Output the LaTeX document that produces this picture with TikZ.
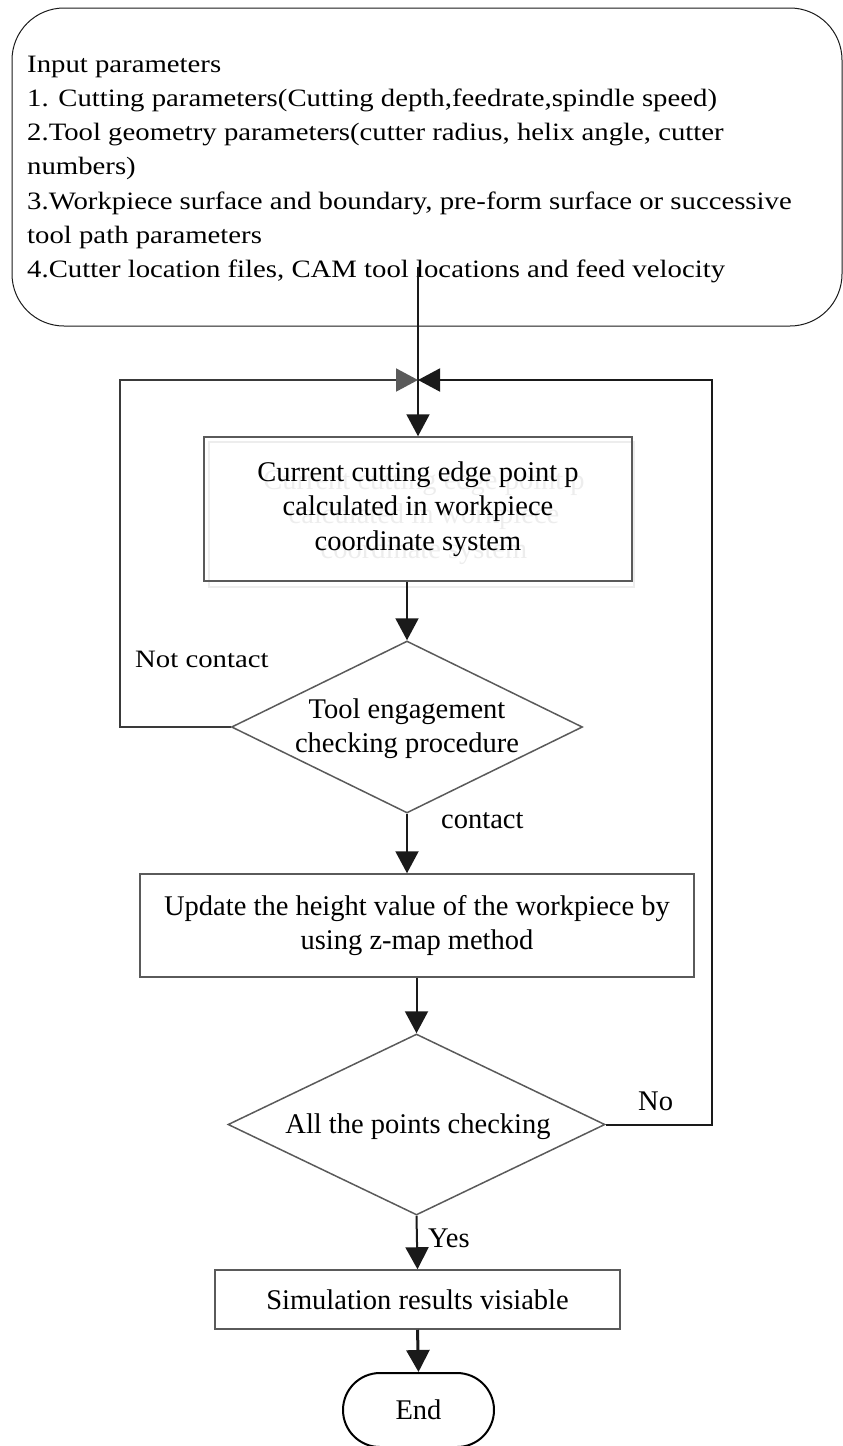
\documentclass[tikz,border=0pt]{standalone}
\usepackage{fontspec}
\setmainfont{Liberation Serif}
\newfontfamily\widefont[FakeStretch=1.15]{Liberation Serif}
\usetikzlibrary{arrows.meta,shapes.geometric}
\definecolor{ink}{HTML}{1A1A1A}
\definecolor{edge}{HTML}{5A5A5A}
\definecolor{loopgray}{HTML}{3A3A3A}
\begin{document}
\begin{tikzpicture}[x=1pt,y=-1pt,
  boxtext/.style={font=\fontsize{28.5}{34.5}\selectfont, align=center, inner sep=0pt},
  procbox/.style={draw=edge, line width=1.5pt, rectangle, inner sep=0pt, boxtext},
  dia/.style={draw=edge, line width=1.5pt, diamond, inner sep=0pt},
  conn/.style={draw=ink, line width=2pt, -{Triangle[length=22pt,width=23pt,color=ink]}},
  lbl/.style={font=\fontsize{28.5}{34.5}\selectfont, inner sep=0pt, anchor=base west},
  toptext/.style={font=\widefont\fontsize{25}{34}\selectfont, inner sep=0pt, anchor=base west}
]
\clip (0,0) rectangle (843,1446);
\useasboundingbox (0,0) rectangle (843,1446);

% input box
\node[draw=ink, line width=1pt, rounded corners=52pt, minimum width=830pt, minimum height=318pt, inner sep=0pt] (inbox) at (427,167) {};
\foreach \t [count=\i] in {{Input parameters},
  {1. Cutting parameters(Cutting depth,feedrate,spindle speed)},
  {2.Tool geometry parameters(cutter radius, helix angle, cutter},
  {numbers)},
  {3.Workpiece surface and boundary, pre-form surface or successive},
  {tool path parameters},
  {4.Cutter location files, CAM tool locations and feed velocity}}
  \node[toptext] (in\i) at (27,{72+34.33*(\i-1)}) {\t};

% box 1 with faint shadow
\node[draw=gray!14, line width=2pt, minimum width=425pt, minimum height=145pt, inner sep=0pt] (b1shadow) at (421.5,514.5) {};
\node[boxtext, text=gray!14] (b1ghost) at (424,517) {Current cutting edge point p\\calculated in workpiece\\coordinate system};
\node[procbox, minimum width=428pt, minimum height=144pt] (b1) at (418,509) {Current cutting edge point p\\calculated in workpiece\\coordinate system};

% diamond 1
\node[dia, minimum width=351pt, minimum height=172pt] (d1) at (407,727) {};
\node[boxtext] (d1t) at (407,728.5) {Tool engagement\\checking procedure};

% box 2
\node[procbox, minimum width=554pt, minimum height=103pt] (b2) at (417,925.5) {Update the height value of the workpiece by\\using z-map method};

% diamond 2
\node[dia, minimum width=377pt, minimum height=181pt] (d2) at (416.5,1124.5) {};
\node[boxtext] (d2t) at (418,1126.4) {All the points checking};

% box 3
\node[procbox, minimum width=405pt, minimum height=59pt] (b3) at (417.5,1299.5) {Simulation results visiable};

% end
\node[draw=black, line width=2pt, rounded corners=37pt, minimum width=151pt, minimum height=74pt, inner sep=0pt, font=\fontsize{28.5}{34.5}\selectfont] (en) at (418.5,1410) {End};

% connectors
\coordinate (src) at (418,267);
\coordinate (m) at (418,380);
\coordinate (lc) at (120,380);
\coordinate (rc) at (712,380);
\draw[conn] (src) -- (b1.north);
\draw[conn] (b1.south -| d1.north) -- (d1.north);
\draw[conn] (d1.south) -- (d1.south |- b2.north);
\draw[conn] (b2.south -| d2.north) -- (d2.north);
\draw[conn] (d2.south) -- (b3.north);
\draw[conn, line width=3pt] (b3.south) -- (en.north);
\draw[draw=loopgray, line width=2pt, -{Triangle[length=22pt,width=23pt,color=edge]}] (d1.west) -| (lc) -- (m);
\draw[conn] (d2.east) -| (rc) -- (m);

% labels
\node[lbl, font=\widefont\fontsize{25}{30}\selectfont] (nc) at (135,667) {Not contact};
\node[lbl] (ct) at (441,828) {contact};
\node[lbl] (no) at (638,1110) {No};
\node[lbl] (yes) at (428,1247) {Yes};
\end{tikzpicture}
\end{document}
